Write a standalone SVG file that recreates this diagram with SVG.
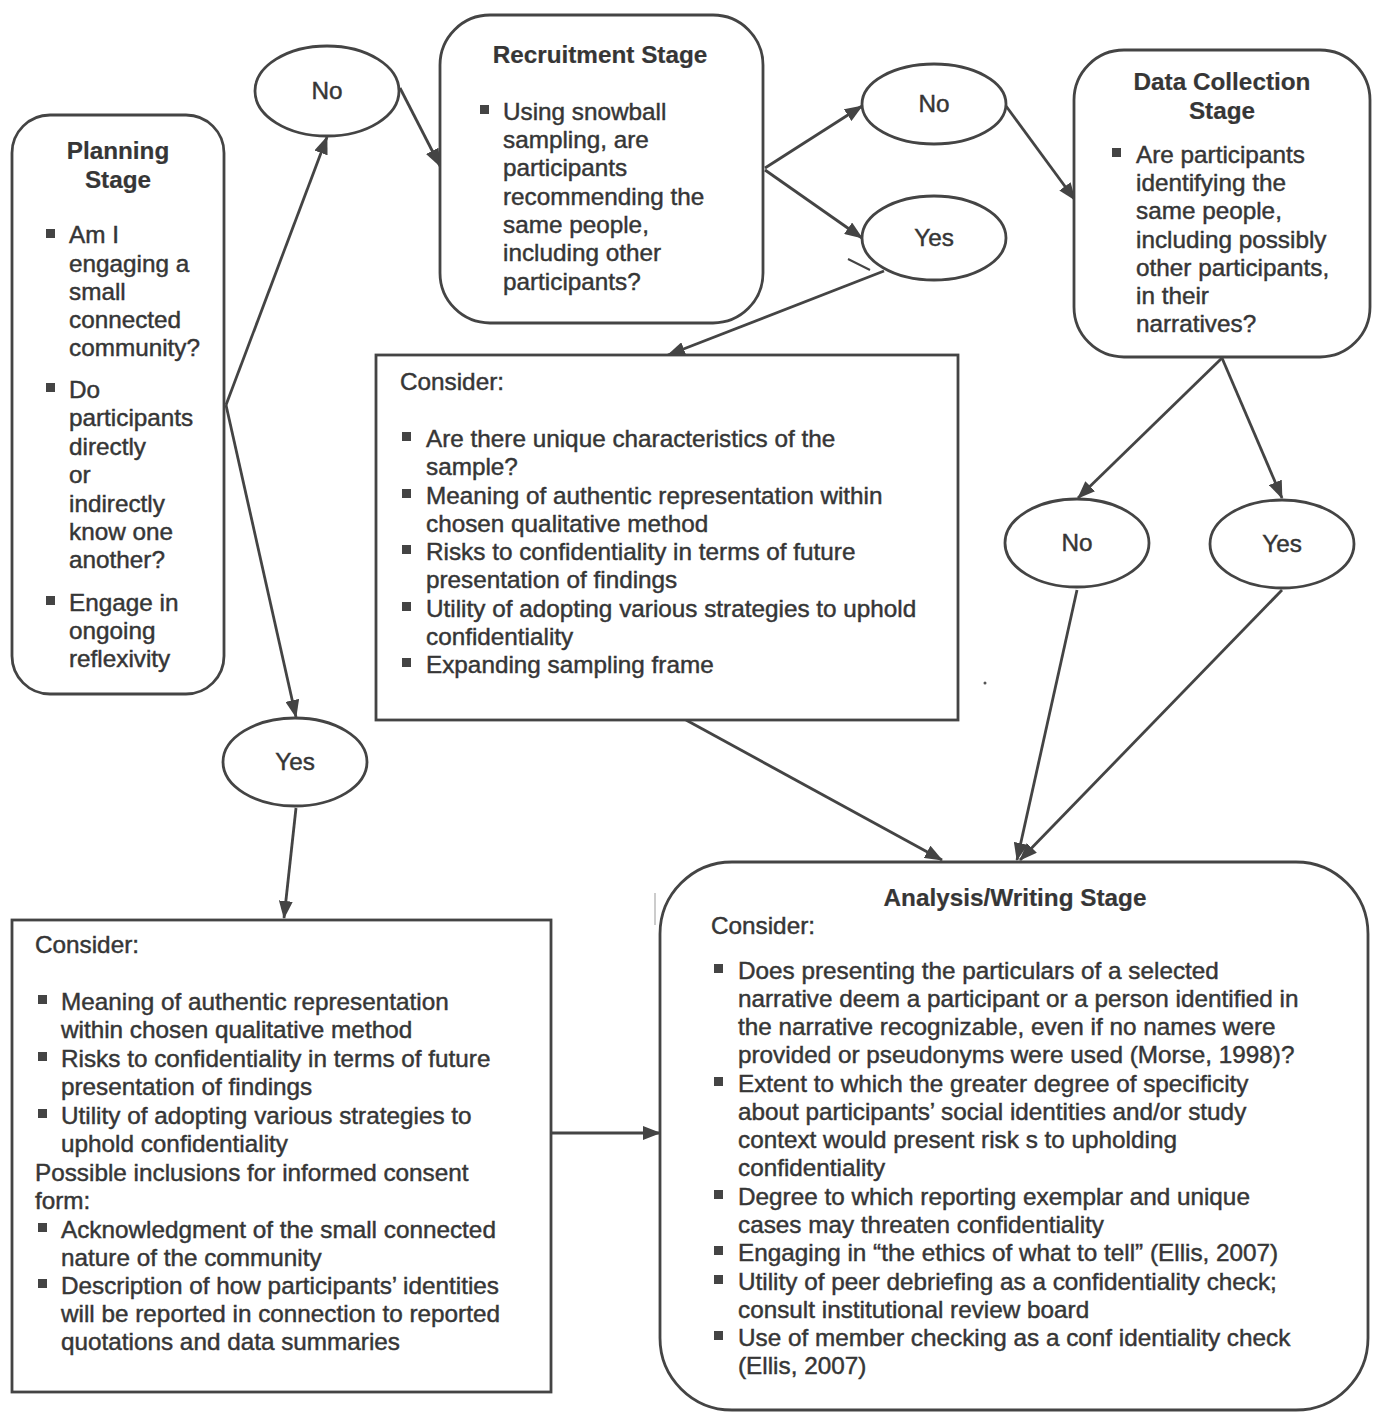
<svg xmlns="http://www.w3.org/2000/svg" width="1382" height="1419" viewBox="0 0 1382 1419">
<style>
.box{fill:#fff;stroke:#444;stroke-width:2.8}
.t{font-family:"Liberation Sans",Arial,sans-serif;font-size:24.3px;fill:#363636;stroke:#363636;stroke-width:0.45}
.b{font-weight:bold;stroke-width:0.2}
.c{text-anchor:middle}
.bu{fill:#444}
.con{stroke:#444;stroke-width:2.8;fill:none;marker-end:url(#ah)}
</style>
<defs>
<marker id="ah" viewBox="0 0 18 14" refX="17" refY="7" markerWidth="18" markerHeight="14" markerUnits="userSpaceOnUse" orient="auto">
<path d="M0,0 L18,7 L0,14 z" fill="#444"/>
</marker>
</defs>
<rect width="1382" height="1419" fill="#fff"/>

<g id="connectors">
<line class="con" x1="226" y1="405" x2="327" y2="137"/>
<line class="con" x1="226" y1="405" x2="296" y2="717"/>
<line class="con" x1="400" y1="88" x2="440" y2="166"/>
<line class="con" x1="765" y1="168" x2="862" y2="106"/>
<line class="con" x1="765" y1="170" x2="862" y2="238"/>
<line class="con" x1="884" y1="271" x2="668" y2="355"/>
<line class="con" x1="1006" y1="106" x2="1075" y2="200"/>
<line class="con" x1="1222" y1="358" x2="1078" y2="498"/>
<line class="con" x1="1222" y1="358" x2="1282" y2="498"/>
<line class="con" x1="1077" y1="590" x2="1017" y2="860"/>
<line class="con" x1="1282" y1="590" x2="1020" y2="860"/>
<line class="con" x1="686" y1="720" x2="942" y2="860"/>
<line class="con" x1="296" y1="808" x2="284" y2="918"/>
<line class="con" x1="551" y1="1133" x2="660" y2="1133"/>
<line x1="848" y1="259" x2="870" y2="270" stroke="#444" stroke-width="2"/>
<line x1="655" y1="893" x2="655" y2="925" stroke="#bbb" stroke-width="1.5"/>
<circle cx="985" cy="683" r="1.5" fill="#555"/>
</g>

<g id="planning">
<rect class="box" x="12" y="115" width="212" height="579" rx="38"/>
<text class="t b c" x="118" y="159">Planning</text>
<text class="t b c" x="118" y="188">Stage</text>
<rect class="bu" x="46" y="229" width="9" height="9"/>
<rect class="bu" x="46" y="383" width="9" height="9"/>
<rect class="bu" x="46" y="596" width="9" height="9"/>
<text class="t">
<tspan x="69" y="243">Am I</tspan>
<tspan x="69" y="272">engaging a</tspan>
<tspan x="69" y="300">small</tspan>
<tspan x="69" y="328">connected</tspan>
<tspan x="69" y="356">community?</tspan>
<tspan x="69" y="398">Do</tspan>
<tspan x="69" y="426">participants</tspan>
<tspan x="69" y="455">directly</tspan>
<tspan x="69" y="483">or</tspan>
<tspan x="69" y="512">indirectly</tspan>
<tspan x="69" y="540">know one</tspan>
<tspan x="69" y="568">another?</tspan>
<tspan x="69" y="611">Engage in</tspan>
<tspan x="69" y="639">ongoing</tspan>
<tspan x="69" y="667">reflexivity</tspan>
</text>
</g>

<g id="no1">
<ellipse class="box" cx="327" cy="91" rx="72" ry="45"/>
<text class="t c" x="327" y="99">No</text>
</g>

<g id="yes1">
<ellipse class="box" cx="295" cy="762" rx="72" ry="44"/>
<text class="t c" x="295" y="770">Yes</text>
</g>

<g id="recruitment">
<rect class="box" x="440" y="15" width="323" height="308" rx="50"/>
<text class="t b c" x="600" y="63">Recruitment Stage</text>
<rect class="bu" x="480" y="105" width="9" height="9"/>
<text class="t">
<tspan x="503" y="120">Using snowball</tspan>
<tspan x="503" y="148">sampling, are</tspan>
<tspan x="503" y="176">participants</tspan>
<tspan x="503" y="205">recommending the</tspan>
<tspan x="503" y="233">same people,</tspan>
<tspan x="503" y="261">including other</tspan>
<tspan x="503" y="290">participants?</tspan>
</text>
</g>

<g id="no2">
<ellipse class="box" cx="934" cy="104" rx="72" ry="40"/>
<text class="t c" x="934" y="112">No</text>
</g>

<g id="yes2">
<ellipse class="box" cx="934" cy="238" rx="72" ry="42"/>
<text class="t c" x="934" y="246">Yes</text>
</g>

<g id="consider-mid">
<rect class="box" x="376" y="355" width="582" height="365"/>
<text class="t" x="400" y="390">Consider:</text>
<rect class="bu" x="402" y="432" width="9" height="9"/>
<rect class="bu" x="402" y="489" width="9" height="9"/>
<rect class="bu" x="402" y="545" width="9" height="9"/>
<rect class="bu" x="402" y="602" width="9" height="9"/>
<rect class="bu" x="402" y="658" width="9" height="9"/>
<text class="t">
<tspan x="426" y="447">Are there unique characteristics of the</tspan>
<tspan x="426" y="475">sample?</tspan>
<tspan x="426" y="504">Meaning of authentic representation within</tspan>
<tspan x="426" y="532">chosen qualitative method</tspan>
<tspan x="426" y="560">Risks to confidentiality in terms of future</tspan>
<tspan x="426" y="588">presentation of findings</tspan>
<tspan x="426" y="617">Utility of adopting various strategies to uphold</tspan>
<tspan x="426" y="645">confidentiality</tspan>
<tspan x="426" y="673">Expanding sampling frame</tspan>
</text>
</g>

<g id="datacollection">
<rect class="box" x="1074" y="50" width="296" height="307" rx="50"/>
<text class="t b c" x="1222" y="90">Data Collection</text>
<text class="t b c" x="1222" y="119">Stage</text>
<rect class="bu" x="1112" y="148" width="9" height="9"/>
<text class="t">
<tspan x="1136" y="163">Are participants</tspan>
<tspan x="1136" y="191">identifying the</tspan>
<tspan x="1136" y="219">same people,</tspan>
<tspan x="1136" y="248">including possibly</tspan>
<tspan x="1136" y="276">other participants,</tspan>
<tspan x="1136" y="304">in their</tspan>
<tspan x="1136" y="332">narratives?</tspan>
</text>
</g>

<g id="no3">
<ellipse class="box" cx="1077" cy="543" rx="72" ry="44"/>
<text class="t c" x="1077" y="551">No</text>
</g>

<g id="yes3">
<ellipse class="box" cx="1282" cy="544" rx="72" ry="44"/>
<text class="t c" x="1282" y="552">Yes</text>
</g>

<g id="consider-left">
<rect class="box" x="12" y="920" width="539" height="472"/>
<text class="t" x="35" y="953">Consider:</text>
<rect class="bu" x="38" y="995" width="9" height="9"/>
<rect class="bu" x="38" y="1052" width="9" height="9"/>
<rect class="bu" x="38" y="1109" width="9" height="9"/>
<rect class="bu" x="38" y="1223" width="9" height="9"/>
<rect class="bu" x="38" y="1279" width="9" height="9"/>
<text class="t">
<tspan x="61" y="1010">Meaning of authentic representation</tspan>
<tspan x="61" y="1038">within chosen qualitative method</tspan>
<tspan x="61" y="1067">Risks to confidentiality in terms of future</tspan>
<tspan x="61" y="1095">presentation of findings</tspan>
<tspan x="61" y="1124">Utility of adopting various strategies to</tspan>
<tspan x="61" y="1152">uphold confidentiality</tspan>
<tspan x="35" y="1181">Possible inclusions for informed consent</tspan>
<tspan x="35" y="1209">form:</tspan>
<tspan x="61" y="1238">Acknowledgment of the small connected</tspan>
<tspan x="61" y="1266">nature of the community</tspan>
<tspan x="61" y="1294">Description of how participants’ identities</tspan>
<tspan x="61" y="1322">will be reported in connection to reported</tspan>
<tspan x="61" y="1350">quotations and data summaries</tspan>
</text>
</g>

<g id="analysis">
<rect class="box" x="660" y="862" width="708" height="548" rx="72"/>
<text class="t b c" x="1015" y="906">Analysis/Writing Stage</text>
<text class="t" x="711" y="934">Consider:</text>
<rect class="bu" x="714" y="964" width="9" height="9"/>
<rect class="bu" x="714" y="1077" width="9" height="9"/>
<rect class="bu" x="714" y="1190" width="9" height="9"/>
<rect class="bu" x="714" y="1246" width="9" height="9"/>
<rect class="bu" x="714" y="1275" width="9" height="9"/>
<rect class="bu" x="714" y="1331" width="9" height="9"/>
<text class="t">
<tspan x="738" y="979">Does presenting the particulars of a selected</tspan>
<tspan x="738" y="1007">narrative deem a participant or a person identified in</tspan>
<tspan x="738" y="1035">the narrative recognizable, even if no names were</tspan>
<tspan x="738" y="1063">provided or pseudonyms were used (Morse, 1998)?</tspan>
<tspan x="738" y="1092">Extent to which the greater degree of specificity</tspan>
<tspan x="738" y="1120">about participants’ social identities and/or study</tspan>
<tspan x="738" y="1148">context would present risk s to upholding</tspan>
<tspan x="738" y="1176">confidentiality</tspan>
<tspan x="738" y="1205">Degree to which reporting exemplar and unique</tspan>
<tspan x="738" y="1233">cases may threaten confidentiality</tspan>
<tspan x="738" y="1261">Engaging in “the ethics of what to tell” (Ellis, 2007)</tspan>
<tspan x="738" y="1290">Utility of peer debriefing as a confidentiality check;</tspan>
<tspan x="738" y="1318">consult institutional review board</tspan>
<tspan x="738" y="1346">Use of member checking as a conf identiality check</tspan>
<tspan x="738" y="1374">(Ellis, 2007)</tspan>
</text>
</g>
</svg>
